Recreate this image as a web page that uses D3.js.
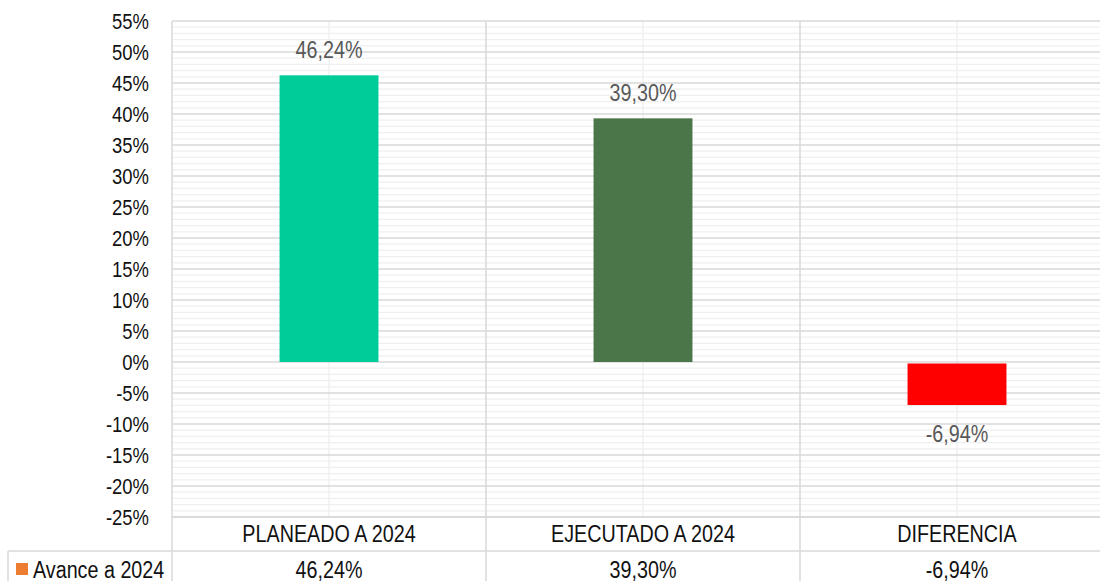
<!DOCTYPE html>
<html>
<head>
<meta charset="utf-8">
<script src="https://cdn.jsdelivr.net/npm/d3@7"></script>
<style>
  body { margin: 0; background: #fff; }
  svg text { font-family: "Liberation Sans", Arial, sans-serif; }
</style>
</head>
<body>
<script>
// chart data
var categories = ["PLANEADO A 2024", "EJECUTADO A 2024", "DIFERENCIA"];
var values = [46.24, 39.30, -6.94];
var labels = ["46,24%", "39,30%", "-6,94%"];
var barColors = ["#00cc99", "#4a7649", "#ff0000"];
var seriesName = "Avance a 2024";
var yTicks = [-25, -20, -15, -10, -5, 0, 5, 10, 15, 20, 25, 30, 35, 40, 45, 50, 55];

var W = 1100, H = 581;
var plotLeft = 172, plotTop = 21, plotBottom = 517, plotRight = 1114;
var narrow = 0.84; // squeeze to look like Arial Narrow

var svg = d3.select("body").append("svg")
    .attr("width", W)
    .attr("height", H);

var x = d3.scaleBand().domain(categories).range([plotLeft, plotRight]).padding(0);
var y = d3.scaleLinear().domain([-25, 55]).range([plotBottom, plotTop]);

function place(sel, fx, fy) {// position text and narrow it
    return sel.attr("transform", function (d, i) {
        return "translate(" + fx(d, i) + "," + fy(d, i) + ") scale(" + narrow + ",1)";
    });
}

// minor gridlines every 1%
var minor = d3.range(-25, 56, 1).filter(function (v) { return v % 5 != 0; });
svg.append("g").selectAll("line")
    .data(minor)
    .enter().append("line")
    .attr("x1", plotLeft).attr("x2", W)
    .attr("y1", function (d) { return y(d); })
    .attr("y2", function (d) { return y(d); })
    .attr("stroke", "#efefef")
    .attr("stroke-width", 1.3);

// vertical minor lines at category centres
svg.append("g").selectAll("line")
    .data(categories)
    .enter().append("line")
    .attr("x1", function (d) { return x(d) + x.bandwidth() / 2; })
    .attr("x2", function (d) { return x(d) + x.bandwidth() / 2; })
    .attr("y1", plotTop).attr("y2", plotBottom)
    .attr("stroke", "#eeeeee")
    .attr("stroke-width", 1.3);

// major gridlines
svg.append("g").selectAll("line")
    .data(yTicks)
    .enter().append("line")
    .attr("x1", plotLeft).attr("x2", W)
    .attr("y1", function (d) { return y(d); })
    .attr("y2", function (d) { return y(d); })
    .attr("stroke", "#d9d9d9")
    .attr("stroke-width", 1.5);

// category boundaries (through the table header and value row)
svg.append("g").selectAll("line")
    .data(categories)
    .enter().append("line")
    .attr("x1", function (d) { return x(d); })
    .attr("x2", function (d) { return x(d); })
    .attr("y1", plotTop).attr("y2", H)
    .attr("stroke", "#d9d9d9")
    .attr("stroke-width", 1.5);

// table lines
svg.append("line").attr("x1", plotLeft).attr("x2", W).attr("y1", plotBottom).attr("y2", plotBottom)
    .attr("stroke", "#d9d9d9").attr("stroke-width", 1.5);
svg.append("line").attr("x1", 8).attr("x2", W).attr("y1", 551).attr("y2", 551)
    .attr("stroke", "#d9d9d9").attr("stroke-width", 1.5);
svg.append("line").attr("x1", 8).attr("x2", 8).attr("y1", 551).attr("y2", H)
    .attr("stroke", "#d9d9d9").attr("stroke-width", 1.5);

// y axis labels
place(svg.append("g").selectAll("text")
    .data(yTicks)
    .enter().append("text"),
    function () { return 149; }, function (d) { return y(d); })
    .attr("dy", "0.36em")
    .attr("text-anchor", "end")
    .attr("font-size", 22)
    .attr("fill", "#111")
    .text(function (d) { return d + "%"; });

// bars
var barW = x.bandwidth() * 0.315;
svg.append("g").selectAll("rect")
    .data(values)
    .enter().append("rect")
    .attr("x", function (d, i) { return x(categories[i]) + (x.bandwidth() - barW) / 2; })
    .attr("y", function (d) { return d >= 0 ? y(d) : y(0) + 1.5; })
    .attr("width", barW)
    .attr("height", function (d) { return d >= 0 ? y(0) - y(d) : y(d) - y(0) - 1.5; })
    .attr("fill", function (d, i) { return barColors[i]; });

// data labels
place(svg.append("g").selectAll("text")
    .data(values)
    .enter().append("text"),
    function (d, i) { return x(categories[i]) + x.bandwidth() / 2; },
    function (d) { return d >= 0 ? y(d) - 17 : y(d) + 37; })
    .attr("text-anchor", "middle")
    .attr("font-size", 23.5)
    .attr("fill", "#595959")
    .text(function (d, i) { return labels[i]; });

// category labels
place(svg.append("g").selectAll("text")
    .data(categories)
    .enter().append("text"),
    function (d) { return x(d) + x.bandwidth() / 2; }, function () { return 534; })
    .attr("dy", "0.36em")
    .attr("text-anchor", "middle")
    .attr("font-size", 23.5)
    .attr("fill", "#111")
    .text(function (d) { return d; });

// value row of the data table
place(svg.append("g").selectAll("text")
    .data(labels)
    .enter().append("text"),
    function (d, i) { return x(categories[i]) + x.bandwidth() / 2; }, function () { return 570; })
    .attr("dy", "0.36em")
    .attr("text-anchor", "middle")
    .attr("font-size", 23.5)
    .attr("fill", "#111")
    .text(function (d) { return d; });

// legend key
svg.append("rect").attr("x", 16).attr("y", 563).attr("width", 12).attr("height", 12)
    .attr("fill", "#ed7d31");
place(svg.append("text"), function () { return 33; }, function () { return 570; })
    .attr("dy", "0.36em")
    .attr("font-size", 23.5).attr("fill", "#111")
    .text(seriesName);
</script>
</body>
</html>
